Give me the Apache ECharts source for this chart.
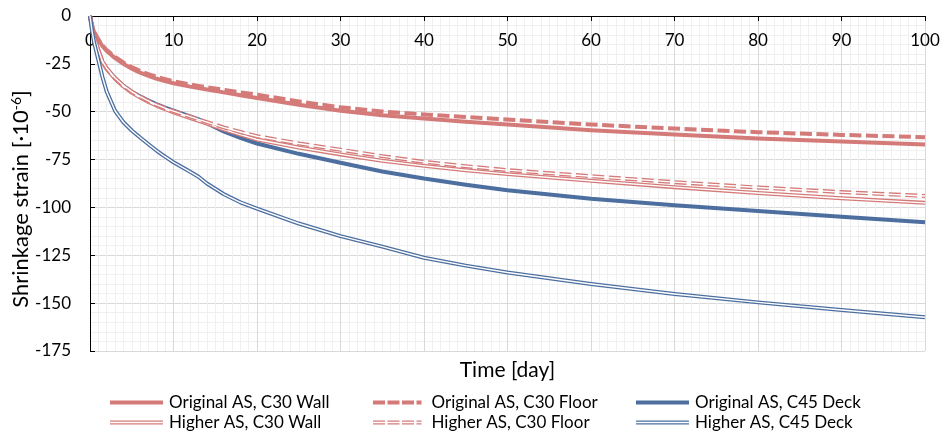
<!DOCTYPE html>
<html>
<head>
<meta charset="utf-8">
<script src="https://cdn.jsdelivr.net/npm/echarts@6/dist/echarts.min.js"></script>
<style>
  html, body { margin: 0; padding: 0; background: #ffffff; }
  #chart { width: 941px; height: 434px; }
</style>
</head>
<body>
<div id="chart"></div>
<script>
// Time axis samples [day]
const days = [0, 0.25, 0.5, 1, 1.5, 2, 3, 4, 5, 6, 7, 8, 9, 10, 12, 13, 14, 16, 18, 20, 25, 30, 35, 40, 45, 50, 60, 70, 80, 90, 100];

// Shrinkage strain [1e-6] per mix
const origC30Wall  = [0, -5, -8.5, -12.5, -15.8, -18.3, -22, -25, -27.5, -29.6, -31.3, -32.8, -34, -35.1, -36.9, -37.6, -38.4, -39.9, -41.4, -42.8, -46.4, -49.5, -51.8, -53.6, -55.2, -56.7, -59.7, -61.9, -64, -65.6, -67.1];
const origC30Floor = [0, -5, -8.3, -12.2, -15.4, -17.8, -21.4, -24.3, -26.7, -28.7, -30.4, -31.8, -33, -34.1, -35.8, -36.5, -37.2, -38.6, -39.9, -41.1, -44.6, -47.7, -49.9, -51.4, -52.8, -54.1, -56.7, -58.8, -60.7, -62.1, -63.3];
const origC45Deck  = [0, -6, -11, -18, -24, -27.5, -32.5, -36.5, -39.5, -42, -44.2, -46.2, -47.9, -49.4, -52.4, -54, -56, -60.3, -63.7, -66.6, -72, -76.7, -81.2, -84.9, -88.1, -91, -95.5, -98.8, -101.9, -104.9, -107.8];
const highC30Wall  = [0, -6, -11, -18, -24, -27.7, -32.8, -36.8, -40, -42.6, -44.9, -46.9, -48.7, -50.3, -53.3, -54.8, -56.2, -59.2, -62, -64.5, -68.7, -72.3, -75.6, -78.3, -80.6, -82.6, -86.1, -89.4, -92.5, -95.2, -97.6];
const highC30Floor = [0, -6, -11, -17.8, -23.7, -27.3, -32.4, -36.3, -39.5, -42.1, -44.4, -46.4, -48.1, -49.7, -52.6, -54, -55.4, -58.2, -60.6, -62.8, -66.6, -69.9, -73.2, -76.2, -78.5, -80.5, -83.7, -86.8, -89.6, -92, -94];
const highC45Deck  = [0, -8, -14, -23, -32, -39.5, -49.5, -55.5, -59.8, -63.5, -67, -70.4, -73.5, -76.4, -81.4, -84, -87.5, -93, -97.3, -100.6, -108.4, -115, -120.5, -126.3, -130.4, -134, -140, -145.2, -149.6, -153.6, -157.4];

// Series labels
const seriesNames = [
  'Original AS, C30 Wall', 'Original AS, C30 Floor', 'Original AS, C45 Deck',
  'Higher AS, C30 Wall', 'Higher AS, C30 Floor', 'Higher AS, C45 Deck'
];

// Axis ticks
const xTicks = { min: 0, max: 100, step: 10 };
const yTicks = { min: -175, max: 0, step: 25 };

const RED = '#D47B79';
const BLUE = '#4D6FA0';
const FONT = 'Lato, "Liberation Sans", sans-serif';
const DASH = [12, 4.5];

function pairs(vals) {
  return days.map((d, i) => [d, vals[i]]);
}

// Single thick line
function thickLine(name, vals, color, dashed) {
  return {
    name: name, type: 'line', data: pairs(vals),
    symbol: 'none', showSymbol: false, silent: true,
    itemStyle: { color: color },
    lineStyle: { color: color, width: 4, type: dashed ? DASH : 'solid', cap: 'butt', join: 'round' },
    emphasis: { disabled: true }
  };
}

// Double (compound) line: coloured band with a white core
function doubleLine(name, vals, color, dashed) {
  return [
    {
      name: name, type: 'line', data: pairs(vals),
      symbol: 'none', showSymbol: false, silent: true,
      itemStyle: { color: color },
      lineStyle: { color: color, width: 4, type: dashed ? DASH : 'solid', cap: 'butt', join: 'round' },
      emphasis: { disabled: true }
    },
    {
      name: name + ' (core)', type: 'line', data: pairs(vals),
      symbol: 'none', showSymbol: false, silent: true,
      itemStyle: { color: '#ffffff' },
      lineStyle: { color: '#ffffff', width: 1.4, join: 'round' },
      emphasis: { disabled: true }
    }
  ];
}

// Legend glyphs
const ICON_SOLID  = 'path://M0,0H53V4.2H0Z';
const ICON_DOUBLE = 'path://M0,0H53V1.4H0Z M0,2.8H53V4.2H0Z';
const ICON_DASH   = 'path://M0,0H12V4.2H0Z M14.5,0H26.5V4.2H14.5Z M29,0H41V4.2H29Z M43.5,0H48.5V4.2H43.5Z';
const ICON_DASH2  = 'path://M0,0H12V1.4H0Z M14.5,0H26.5V1.4H14.5Z M29,0H41V1.4H29Z M43.5,0H48.5V1.4H43.5Z ' +
                    'M0,2.8H12V4.2H0Z M14.5,2.8H26.5V4.2H14.5Z M29,2.8H41V4.2H29Z M43.5,2.8H48.5V4.2H43.5Z';

function legendBlock(left, width, textGap, items) {
  return {
    orient: 'vertical', left: left, top: 392.5, height: 41, padding: 0,
    itemWidth: width, itemHeight: 4.2, itemGap: 0,
    selectedMode: false,
    itemStyle: { borderWidth: 0 },
    textStyle: { fontFamily: FONT, fontSize: 17, color: '#000', lineHeight: 20, padding: [0, 0, 0, textGap] },
    data: items
  };
}

const option = {
  animation: false,
  backgroundColor: '#ffffff',
  grid: { left: 90, right: 16, top: 16, bottom: 83, containLabel: false, outerBoundsMode: 'none' },
  xAxis: {
    type: 'value', position: 'top',
    min: xTicks.min, max: xTicks.max, interval: xTicks.step,
    axisLine: { show: true, onZero: false, lineStyle: { color: '#000', width: 1 } },
    axisTick: { show: true, inside: true, length: 5, lineStyle: { color: '#000' } },
    axisLabel: { inside: true, margin: 16, fontFamily: FONT, fontSize: 17, color: '#000' },
    splitLine: { show: true, lineStyle: { color: '#d9d9d9', width: 1 } },
    minorTick: { show: false, splitNumber: 10 },
    minorSplitLine: { show: true, lineStyle: { color: '#f0f0f0', width: 1 } }
  },
  yAxis: {
    type: 'value',
    min: yTicks.min, max: yTicks.max, interval: yTicks.step,
    axisLine: { show: true, onZero: false, lineStyle: { color: '#000', width: 1 } },
    axisTick: { show: true, inside: true, length: 5, lineStyle: { color: '#000' } },
    axisLabel: { margin: 19, fontFamily: FONT, fontSize: 17, color: '#000' },
    splitLine: { show: true, lineStyle: { color: '#d9d9d9', width: 1 } },
    minorTick: { show: false, splitNumber: 5 },
    minorSplitLine: { show: true, lineStyle: { color: '#f0f0f0', width: 1 } }
  },
  legend: [
    legendBlock(110, 53, 1, [
      { name: seriesNames[0], icon: ICON_SOLID },
      { name: seriesNames[3], icon: ICON_DOUBLE }
    ]),
    legendBlock(373, 48.5, 5, [
      { name: seriesNames[1], icon: ICON_DASH },
      { name: seriesNames[4], icon: ICON_DASH2 }
    ]),
    legendBlock(636, 53, 1, [
      { name: seriesNames[2], icon: ICON_SOLID },
      { name: seriesNames[5], icon: ICON_DOUBLE }
    ])
  ],
  graphic: [
    {
      // x-axis title
      type: 'text', x: 507.5, y: 370, silent: true,
      style: { text: 'Time [day]', fontFamily: FONT, fontSize: 21, fill: '#000', textAlign: 'center', textVerticalAlign: 'middle' }
    },
    {
      // y-axis title, reading bottom to top
      type: 'text', x: 21, y: 199, rotation: Math.PI / 2, silent: true,
      style: {
        text: '{t|Shrinkage strain [·10}{s|-6}{t|]}',
        textAlign: 'center', textVerticalAlign: 'middle',
        rich: {
          t: { fontFamily: FONT, fontSize: 22, fill: '#000' },
          s: { fontFamily: FONT, fontSize: 14, fill: '#000', padding: [0, 0, 10, 0] }
        }
      }
    }
  ],
  series: [].concat(
    thickLine(seriesNames[0], origC30Wall, RED, false),
    thickLine(seriesNames[1], origC30Floor, RED, true),
    thickLine(seriesNames[2], origC45Deck, BLUE, false),
    doubleLine(seriesNames[3], highC30Wall, RED, false),
    doubleLine(seriesNames[4], highC30Floor, RED, true),
    doubleLine(seriesNames[5], highC45Deck, BLUE, false)
  )
};

const chart = echarts.init(document.getElementById('chart'), null, { renderer: 'canvas' });
chart.setOption(option);
</script>
</body>
</html>
